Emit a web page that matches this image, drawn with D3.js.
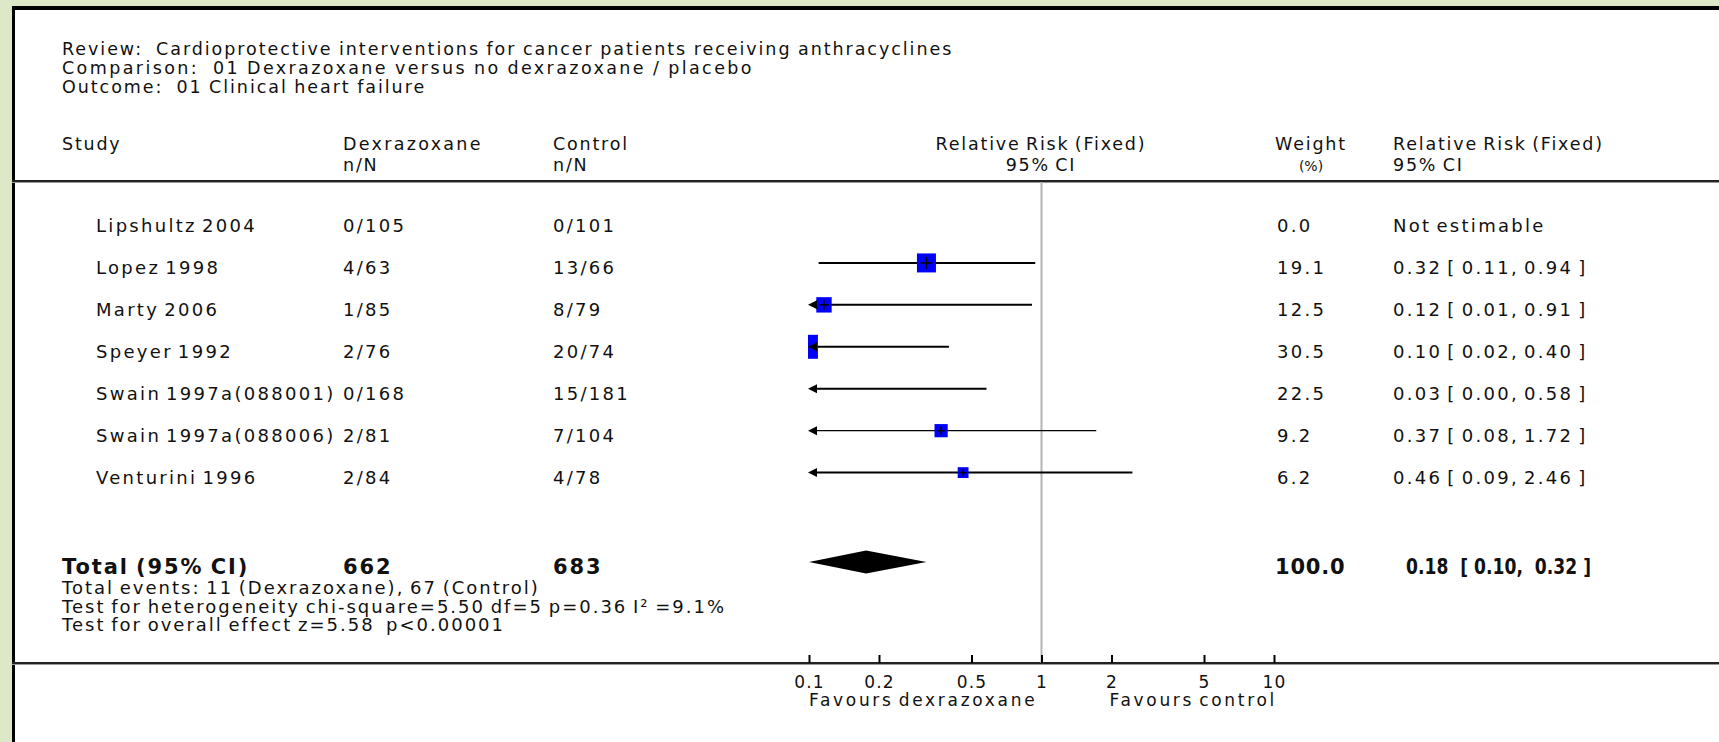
<!DOCTYPE html>
<html>
<head>
<meta charset="utf-8">
<script src="https://cdn.jsdelivr.net/npm/d3@7"></script>
<style>
  html, body { margin: 0; padding: 0; background: #dde8c9; }
  svg { display: block; }
  text { font-family: "DejaVu Sans", sans-serif; fill: #111; white-space: pre; }
</style>
</head>
<body>
<svg id="chart" width="1719" height="742"></svg>
<script>
// ---- data ----
const titleLines = [
  "Review:  Cardioprotective interventions for cancer patients receiving anthracyclines",
  "Comparison:  01 Dexrazoxane versus no dexrazoxane / placebo",
  "Outcome:  01 Clinical heart failure"
];
const studies = ["Lipshultz 2004", "Lopez 1998", "Marty 2006", "Speyer 1992",
  "Swain 1997a(088001)", "Swain 1997a(088006)", "Venturini 1996"];
const dexEvents = [0, 4, 1, 2, 0, 2, 2];
const dexTotals = [105, 63, 85, 76, 168, 81, 84];
const ctrlEvents = [0, 13, 8, 20, 15, 7, 4];
const ctrlTotals = [101, 66, 79, 74, 181, 104, 78];
const weights = [0.0, 19.1, 12.5, 30.5, 22.5, 9.2, 6.2];
const rr = [null, 0.32, 0.116, 0.097, 0.03, 0.37, 0.46];
const ciLow = [null, 0.11, 0.01, 0.02, 0.00, 0.08, 0.09];
const ciHigh = [null, 0.94, 0.91, 0.40, 0.58, 1.72, 2.46];
const totalRR = 0.176, totalLow = 0.10, totalHigh = 0.32;
const totalWeight = 100.0;
const statLines = [
  "Test for heterogeneity chi-square=5.50 df=5 p=0.36 I\u00B2 =9.1%",
  "Test for overall effect z=5.58  p<0.00001"
];
const tickValues = [0.1, 0.2, 0.5, 1, 2, 5, 10];
const favourLabels = ["Favours dexrazoxane", "Favours control"];

// ---- layout ----
const svg = d3.select("#chart");
const W = 1719, H = 742;
const panelL = 12, panelT = 6;

svg.append("rect").attr("x", 0).attr("y", 0).attr("width", W).attr("height", H).attr("fill", "#dde8c9");
svg.append("rect").attr("x", panelL).attr("y", panelT).attr("width", W - panelL).attr("height", H - panelT).attr("fill", "#000");
svg.append("rect").attr("x", panelL + 3).attr("y", panelT + 4).attr("width", W - panelL - 3).attr("height", H - panelT - 4).attr("fill", "#fff");

const x = d3.scaleLog().domain([0.1, 10]).range([809, 1274]);
const size = d3.scaleSqrt().domain([0, 19.1]).range([0, 19]);
const rowY = d3.scalePoint().domain(d3.range(studies.length)).range([225, 476.6]);

const normal = { "font-size": "18px", "letter-spacing": "2.3px", "word-spacing": "-3px" };
function txt(g, s, xx, yy, opts = {}) {
  const t = g.append("text").attr("x", xx).attr("y", yy).text(s);
  const o = Object.assign({}, normal, opts);
  for (const k in o) t.style(k, o[k]);
  return t;
}

// title
const titleSpacing = [1.95, 2.4, 1.95];
titleLines.forEach((s, i) => txt(svg, s, 62, 55 + i * 18.8,
  { "font-size": "17.5px", "letter-spacing": titleSpacing[i] + "px", "word-spacing": "-1px" }));

// headers
const hdr = { "font-size": "17.5px", "letter-spacing": "1.8px", "word-spacing": "-2px" };
txt(svg, "Study", 62, 150, hdr);
txt(svg, "Dexrazoxane", 343, 150, Object.assign({}, hdr, { "letter-spacing": "2.3px" }));
txt(svg, "n/N", 343, 171, hdr);
txt(svg, "Control", 553, 150, hdr);
txt(svg, "n/N", 553, 171, hdr);
txt(svg, "Relative Risk (Fixed)", 1041, 150, Object.assign({}, hdr, { "text-anchor": "middle" }));
txt(svg, "95% CI", 1041, 171, Object.assign({}, hdr, { "text-anchor": "middle" }));
txt(svg, "Weight", 1311, 150, Object.assign({}, hdr, { "text-anchor": "middle" }));
txt(svg, "(%)", 1311, 171, Object.assign({}, hdr, { "text-anchor": "middle", "letter-spacing": "0px", "font-size": "14px" }));
txt(svg, "Relative Risk (Fixed)", 1393, 150, hdr);
txt(svg, "95% CI", 1393, 171, hdr);

// horizontal rules
function rule(y) {
  svg.append("line").attr("x1", panelL).attr("x2", W).attr("y1", y).attr("y2", y).attr("stroke", "#222").attr("stroke-width", 2);
  svg.append("line").attr("x1", panelL).attr("x2", W).attr("y1", y + 1.5).attr("y2", y + 1.5).attr("stroke", "#999").attr("stroke-width", 1);
}
rule(181);
rule(663);

// null line
svg.append("line").attr("x1", x(1)).attr("x2", x(1)).attr("y1", 182).attr("y2", 663)
  .attr("stroke", "#b4b4b4").attr("stroke-width", 2);

// rows
const fmt = d3.format(".2f");
const rows = svg.append("g");
studies.forEach((s, i) => {
  const cy = rowY(i);
  txt(rows, s, 96, cy + 7);
  txt(rows, `${dexEvents[i]}/${dexTotals[i]}`, 343, cy + 7);
  txt(rows, `${ctrlEvents[i]}/${ctrlTotals[i]}`, 553, cy + 7);
  txt(rows, d3.format(".1f")(weights[i]), 1277, cy + 7);
  const label = rr[i] == null ? "Not estimable"
    : `${fmt(rr[i])} [ ${fmt(ciLow[i])}, ${fmt(ciHigh[i])} ]`;
  txt(rows, label, 1393, cy + 7);
});

// forest marks
const defs = svg.append("defs");
defs.append("clipPath").attr("id", "plotclip").append("rect")
  .attr("x", x(0.1) - 1).attr("y", 180).attr("width", x(10) - x(0.1) + 40).attr("height", 480);
const marks = svg.append("g").attr("clip-path", "url(#plotclip)");
studies.forEach((s, i) => {
  if (rr[i] == null) return;
  const ly = rowY(i) - 4;
  const lo = Math.max(ciLow[i], 0.1);
  const sw = s.indexOf("088006") >= 0 ? 1.2 : 2;
  const x0 = ciLow[i] < 0.1 ? x(0.1) + 4 : x(lo);
  marks.append("line").attr("x1", x0).attr("x2", x(ciHigh[i])).attr("y1", ly).attr("y2", ly)
    .attr("stroke", "#000").attr("stroke-width", sw);
  const sz = size(weights[i]);
  if (rr[i] * 1.3 > 0.1) {
    const cx = x(Math.max(rr[i], 0.01));
    marks.append("rect").attr("x", cx - sz / 2).attr("y", ly - sz / 2).attr("width", sz).attr("height", sz)
      .attr("fill", "#0000ff");
    if (rr[i] >= 0.1) {
      marks.append("line").attr("x1", cx).attr("x2", cx).attr("y1", ly - sz * 0.32).attr("y2", ly + sz * 0.32)
        .attr("stroke", "#000").attr("stroke-width", 1.5);
      marks.append("line").attr("x1", cx - sz * 0.32).attr("x2", cx + sz * 0.32).attr("y1", ly).attr("y2", ly)
        .attr("stroke", "#000").attr("stroke-width", 1.5);
    }
  }
  if (ciLow[i] < 0.1) {
    const ax = x(0.1) - 1;
    marks.append("path").attr("d", `M${ax},${ly} L${ax + 9},${ly - 4.5} L${ax + 9},${ly + 4.5} Z`).attr("fill", "#000");
  }
});

// total row
const ty = 574;
const bold = { "font-weight": "bold", "font-size": "21px", "letter-spacing": "1.9px", "word-spacing": "-2px" };
txt(svg, "Total (95% CI)", 62, ty, bold);
txt(svg, String(d3.sum(dexTotals)), 343, ty, bold);
txt(svg, String(d3.sum(ctrlTotals)), 553, ty, bold);
txt(svg, d3.format(".1f")(totalWeight), 1275, ty, Object.assign({}, bold, { "letter-spacing": "0.8px" }));
txt(svg, `${fmt(totalRR)}  [ ${fmt(totalLow)},  ${fmt(totalHigh)} ]`, 1406, ty,
  Object.assign({}, bold, { "font-size": "21px", "letter-spacing": "0px", "word-spacing": "0px" }))
  .attr("textLength", 185).attr("lengthAdjust", "spacingAndGlyphs");

const dy = 562, dh = 11.5;
svg.append("path")
  .attr("d", `M${x(totalLow)},${dy} L${x(totalRR)},${dy - dh} L${x(totalHigh)},${dy} L${x(totalRR)},${dy + dh} Z`)
  .attr("fill", "#000");

const stats = [`Total events: ${d3.sum(dexEvents)} (Dexrazoxane), ${d3.sum(ctrlEvents)} (Control)`].concat(statLines);
stats.forEach((s, i) => txt(svg, s, 62, 594 + i * 18.6, { "font-size": "18px", "letter-spacing": "2.0px", "word-spacing": "-2px" }));

// axis
const axis = d3.axisBottom(x).tickValues(tickValues).tickFormat(d3.format("")).tickSizeInner(-8).tickSizeOuter(0).tickPadding(13);
const ag = svg.append("g").attr("transform", "translate(0,663)").call(axis);
ag.select(".domain").remove();
ag.selectAll(".tick line").attr("stroke", "#000").attr("stroke-width", 2);
ag.selectAll(".tick text").attr("font-family", "DejaVu Sans").style("font-size", "17px").style("letter-spacing", "1.2px").attr("fill", "#111");

txt(svg, favourLabels[0], x(0.1), 706, { "font-size": "17px", "letter-spacing": "2.7px" });
txt(svg, favourLabels[1], x(2) - 2, 706, { "font-size": "17px", "letter-spacing": "2.7px" });
</script>
</body>
</html>
